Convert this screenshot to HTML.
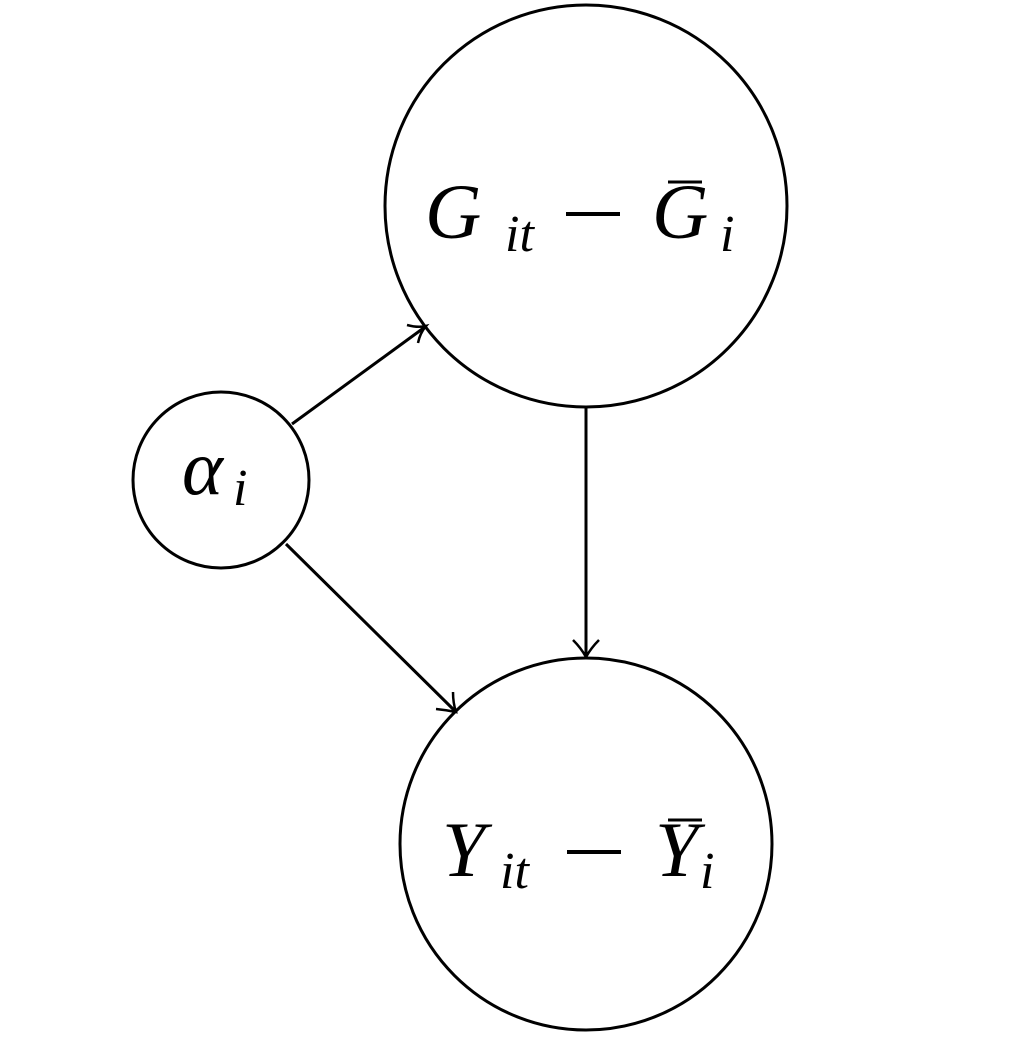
<!DOCTYPE html>
<html><head><style>html,body{margin:0;padding:0;background:#fff}</style></head>
<body>
<svg width="1032" height="1036" viewBox="0 0 1032 1036" xmlns="http://www.w3.org/2000/svg">
<g fill="none" stroke="#000" stroke-width="3">
<circle cx="586" cy="206" r="201"/>
<circle cx="586" cy="844" r="186"/>
<circle cx="221" cy="480" r="88"/>
<line x1="292" y1="424" x2="425" y2="327"/>
<path d="M407 325 Q418 328 426 326 Q420 333 418 343" stroke-width="2.5"/>
<line x1="286" y1="544" x2="455" y2="711"/>
<path d="M453 692 Q453 703 456 712 Q446 710 436 709" stroke-width="2.5"/>
<line x1="586" y1="407" x2="586" y2="656"/>
<path d="M573 640 Q581 648 586 657 Q591 648 599 640" stroke-width="2.5"/>
<line x1="668" y1="182" x2="702" y2="182"/>
<line x1="668" y1="820" x2="702" y2="820"/>
<line x1="566" y1="214" x2="620" y2="214" stroke-width="4"/>
<line x1="567" y1="852" x2="621" y2="852" stroke-width="4"/>
</g>
<g font-family="Liberation Serif, serif" font-style="italic" fill="#000">
<text x="425" y="238" font-size="78">G</text>
<text x="505" y="251" font-size="52">it</text>
<text x="652" y="238" font-size="78">G</text>
<text x="720" y="251" font-size="52">i</text>
<text x="442" y="876" font-size="78">Y</text>
<text x="500" y="888" font-size="52">it</text>
<text x="655" y="876" font-size="78">Y</text>
<text x="700" y="888" font-size="52">i</text>
<text x="182" y="494" font-size="78">α</text>
<text x="233" y="505" font-size="52">i</text>
</g>
</svg>
</body></html>
